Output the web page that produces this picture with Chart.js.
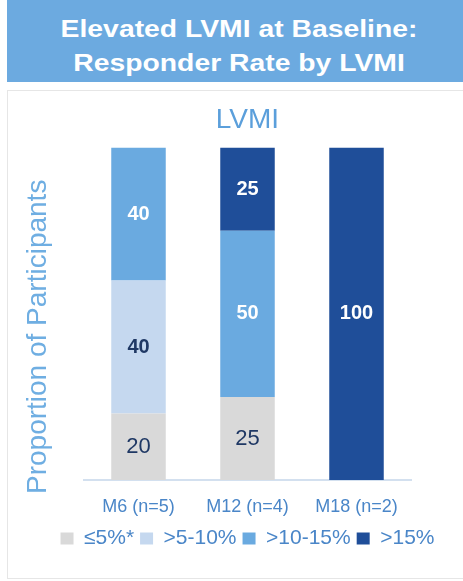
<!DOCTYPE html>
<html>
<head>
<meta charset="utf-8">
<script src="https://cdn.jsdelivr.net/npm/chart.js@4.4.1/dist/chart.umd.min.js"></script>
<style>
  html, body { margin: 0; padding: 0; background: #ffffff; width: 463px; height: 581px; overflow: hidden;
    font-family: "Liberation Sans", Arial, sans-serif; }
  #header { position: absolute; left: 7px; top: 0; width: 456px; height: 82px; box-sizing: border-box;
    padding: 12px 0 0 8px; background: #6CAAE0; color: #ffffff; font-weight: bold; font-size: 24px;
    line-height: 34px; text-align: center; }
  #header div { transform: scaleX(1.18); }
  #panel { position: absolute; left: 7px; top: 90px; width: 470px; height: 489px; box-sizing: border-box;
    border: 1px solid #E6E6E6; }
  #wrap { position: absolute; left: 8px; top: 92px; width: 455px; height: 489px; }
</style>
</head>
<body>
<div id="header"><div>Elevated LVMI at Baseline:</div><div>Responder Rate by LVMI</div></div>
<div id="panel"></div>
<div id="wrap"><canvas id="chart" width="455" height="489"></canvas></div>
<script>
// Visits and the share of participants (%) in each LVMI change band
const categories = ['M6 (n=5)', 'M12 (n=4)', 'M18 (n=2)'];
const bandNames = ['≤5%*', '>5-10%', '>10-15%', '>15%'];
const upTo5 = [20, 25, 0];
const from5to10 = [40, 0, 0];
const from10to15 = [40, 50, 0];
const above15 = [0, 25, 100];

const FONT = '"Liberation Sans", Arial, sans-serif';

// Per-band fill and value-label styling
const bandStyles = [
  { fill: '#D9D9D9', text: '#1F3864', weight: 'normal', size: 22 },
  { fill: '#C5D8EF', text: '#1F3864', weight: 'bold', size: 20 },
  { fill: '#6AAAE0', text: '#FFFFFF', weight: 'bold', size: 20 },
  { fill: '#1F4E99', text: '#FFFFFF', weight: 'bold', size: 20 }
];

const bandValues = [upTo5, from5to10, from10to15, above15];

const datasets = bandValues.map((values, i) => ({
  label: bandNames[i],
  data: values,
  backgroundColor: bandStyles[i].fill,
  borderWidth: 0,
  barPercentage: 1,
  categoryPercentage: 0.5
}));

// Writes each segment's value in the middle of the segment
const segmentValues = {
  id: 'segmentValues',
  afterDatasetsDraw(chart) {
    const ctx = chart.ctx;
    chart.data.datasets.forEach((ds, i) => {
      const meta = chart.getDatasetMeta(i);
      const st = bandStyles[i];
      meta.data.forEach((bar, j) => {
        const v = ds.data[j];
        if (!v) return;
        const p = bar.getProps(['x', 'y', 'base'], true);
        ctx.save();
        ctx.font = st.weight + ' ' + st.size + 'px ' + FONT;
        ctx.fillStyle = st.text;
        ctx.textAlign = 'center';
        ctx.textBaseline = 'middle';
        ctx.fillText(String(v), p.x, (p.y + p.base) / 2);
        ctx.restore();
      });
    });
  }
};

// Vertical axis caption, reading bottom to top
const axisCaption = {
  id: 'axisCaption',
  afterDraw(chart) {
    const { ctx, chartArea } = chart;
    ctx.save();
    ctx.translate(30, chartArea.bottom + 14);
    ctx.rotate(-Math.PI / 2);
    ctx.font = '28px ' + FONT;
    ctx.fillStyle = '#6FAEE2';
    ctx.textAlign = 'left';
    ctx.textBaseline = 'middle';
    ctx.fillText('Proportion of Participants', 0, 0);
    ctx.restore();
  }
};

new Chart(document.getElementById('chart'), {
  type: 'bar',
  data: { labels: categories, datasets },
  options: {
    responsive: false,
    animation: false,
    layout: { padding: { left: 24, right: 0, top: 0, bottom: 22 } },
    plugins: {
      title: {
        display: true,
        text: 'LVMI',
        color: '#5B9FDB',
        font: { family: FONT, size: 28, weight: 'normal' },
        padding: { top: 11, bottom: 11 }
      },
      legend: {
        position: 'bottom',
        labels: {
          boxWidth: 13,
          boxHeight: 12,
          padding: 6,
          color: '#4A86C8',
          font: { family: FONT, size: 21 }
        }
      },
      tooltip: { enabled: false }
    },
    scales: {
      x: {
        stacked: true,
        grid: { display: false, drawTicks: false },
        border: { display: true, color: '#D3E0EF', width: 2 },
        ticks: { color: '#4A86C8', font: { family: FONT, size: 18 }, padding: 16 },
        afterFit: s => { s.height = 42; }
      },
      y: {
        stacked: true,
        min: 0,
        max: 100,
        ticks: { display: false },
        grid: { display: false, drawTicks: false },
        border: { display: false },
        afterFit: s => { s.width = 52; }
      },
      yRight: {
        position: 'right',
        min: 0,
        max: 1,
        ticks: { display: false },
        grid: { display: false, drawTicks: false },
        border: { display: false },
        afterFit: s => { s.width = 52; }
      }
    }
  },
  plugins: [segmentValues, axisCaption]
});
</script>
</body>
</html>
